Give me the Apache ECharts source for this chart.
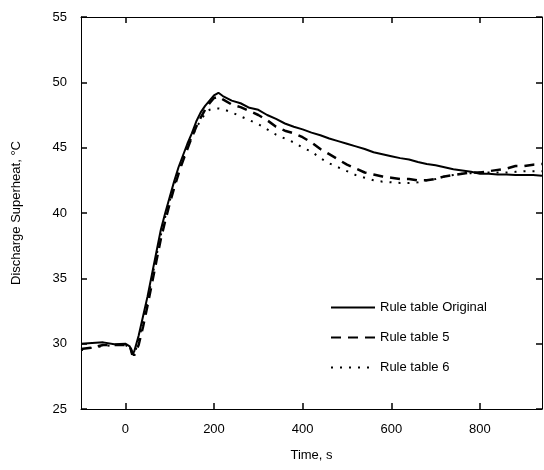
<!DOCTYPE html>
<html lang="en">
<head>
    <meta charset="UTF-8">
    <title>Discharge Superheat</title>
    <script src="https://cdn.jsdelivr.net/npm/echarts@6/dist/echarts.min.js"></script>
    <style>
        body { margin: 0; background: #fff; }
        #main { width: 544px; height: 470px; }
    </style>
</head>
<body>
    <div id="main"></div>
    <script type="text/javascript">
        // time, s
        var times = [-100, -75, -50, -25, 0, 10, 15, 20, 30, 40, 50, 60, 70, 80, 90, 100, 110, 120, 130, 140,
            150, 160, 170, 180, 190, 200, 210, 220, 240, 260, 280, 300, 320, 340, 360, 380, 400, 420, 440, 460,
            480, 500, 520, 540, 560, 580, 600, 620, 640, 660, 680, 700, 720, 740, 760, 780, 800, 820, 840, 860,
            880, 900, 920, 940];

        var ruleOriginal = [30.0, 30.05, 30.1, 29.95, 30.0, 29.8, 29.15, 29.4, 30.6, 32.1, 33.6, 35.3, 37.0, 38.7, 40.0, 41.2, 42.4, 43.5, 44.4, 45.3,
            46.1, 47.0, 47.7, 48.2, 48.6, 49.0, 49.2, 48.95, 48.6, 48.4, 48.05, 47.9, 47.5, 47.2, 46.85, 46.6, 46.4, 46.15, 45.95, 45.7,
            45.5, 45.3, 45.1, 44.9, 44.65, 44.5, 44.35, 44.2, 44.1, 43.9, 43.75, 43.65, 43.5, 43.35, 43.25, 43.15, 43.0, 43.0, 42.95, 42.95,
            42.9, 42.9, 42.9, 42.85];

        var rule5 = [29.6, 29.7, 29.9, 29.9, 29.9, 29.8, 29.4, 29.1, 29.9, 31.3, 32.9, 34.6, 36.3, 38.0, 39.4, 40.7, 41.9, 43.0, 44.0, 44.9,
            45.8, 46.6, 47.3, 47.9, 48.4, 48.8, 48.9, 48.7, 48.3, 48.1, 47.8, 47.5, 47.1, 46.6, 46.3, 46.1, 45.8, 45.4, 44.9, 44.5,
            44.1, 43.7, 43.4, 43.1, 42.95, 42.8, 42.7, 42.6, 42.6, 42.5, 42.5, 42.6, 42.8, 42.9, 43.0, 43.1, 43.1, 43.2, 43.3, 43.4,
            43.6, 43.6, 43.7, 43.75];

        var rule6 = [29.5, 29.7, 29.8, 29.9, 29.9, 29.7, 29.3, 29.2, 30.2, 31.7, 33.3, 35.0, 36.7, 38.3, 39.7, 40.9, 42.1, 43.2, 44.1, 45.0,
            45.8, 46.5, 47.1, 47.6, 47.9, 48.0, 48.0, 47.95, 47.7, 47.4, 47.1, 46.8, 46.4, 46.0, 45.7, 45.4, 45.0, 44.7, 44.2, 43.8,
            43.5, 43.2, 42.9, 42.7, 42.5, 42.4, 42.35, 42.3, 42.3, 42.35, 42.5, 42.6, 42.8, 42.9, 43.0, 43.05, 43.1, 43.1, 43.1, 43.1,
            43.15, 43.2, 43.2, 43.2];

        var xTicks = [0, 200, 400, 600, 800];

        function pairs(vals) {
            return times.map(function (t, i) { return [t, vals[i]]; });
        }

        var font = 'Liberation Sans, Arial, sans-serif';

        function tick(custom) {
            var t = { show: true, inside: true, length: 6, lineStyle: { color: '#000', width: 1.5 } };
            if (custom) t.customValues = custom;
            return t;
        }

        var myChart = echarts.init(document.getElementById('main'));

        var option = {
            animation: false,
            grid: { left: 81, right: 2, top: 17, bottom: 61 },
            legend: {
                orient: 'vertical',
                left: 325,
                top: 296,
                itemWidth: 44,
                itemHeight: 10,
                itemGap: 17,
                itemStyle: { opacity: 0 },
                textStyle: { fontFamily: font, fontSize: 13, color: '#000' },
                data: ['Rule table Original', 'Rule table 5', 'Rule table 6']
            },
            xAxis: [{
                type: 'value',
                min: -100,
                max: 940,
                name: 'Time, s',
                nameLocation: 'middle',
                nameGap: 40,
                nameTextStyle: { fontFamily: font, fontSize: 13, color: '#000' },
                axisLine: { onZero: false, lineStyle: { color: '#000' } },
                axisTick: tick(xTicks),
                axisLabel: { fontFamily: font, fontSize: 13, color: '#000', margin: 14, customValues: xTicks },
                splitLine: { show: false }
            }, {
                type: 'value',
                position: 'top',
                min: -100,
                max: 940,
                axisLine: { onZero: false, lineStyle: { color: '#000' } },
                axisTick: tick(xTicks),
                axisLabel: { show: false },
                splitLine: { show: false }
            }],
            yAxis: [{
                type: 'value',
                min: 25,
                max: 55,
                interval: 5,
                name: 'Discharge Superheat, °C',
                nameLocation: 'middle',
                nameGap: 58,
                nameTextStyle: { fontFamily: font, fontSize: 13, color: '#000' },
                axisLine: { onZero: false, lineStyle: { color: '#000' } },
                axisTick: tick(),
                axisLabel: { fontFamily: font, fontSize: 13, color: '#000', margin: 14 },
                splitLine: { show: false }
            }, {
                type: 'value',
                position: 'right',
                min: 25,
                max: 55,
                interval: 5,
                axisLine: { onZero: false, lineStyle: { color: '#000' } },
                axisTick: tick(),
                axisLabel: { show: false },
                splitLine: { show: false }
            }],
            series: [{
                name: 'Rule table Original',
                type: 'line',
                symbol: 'none',
                data: pairs(ruleOriginal),
                lineStyle: { color: '#000', width: 2 },
                itemStyle: { color: '#000' }
            }, {
                name: 'Rule table 5',
                type: 'line',
                symbol: 'none',
                data: pairs(rule5),
                lineStyle: { color: '#000', width: 2.5, type: [10, 7] },
                itemStyle: { color: '#000' }
            }, {
                name: 'Rule table 6',
                type: 'line',
                symbol: 'none',
                data: pairs(rule6),
                lineStyle: { color: '#000', width: 2, type: [2, 7] },
                itemStyle: { color: '#000' }
            }]
        };

        myChart.setOption(option);
    </script>
</body>
</html>
